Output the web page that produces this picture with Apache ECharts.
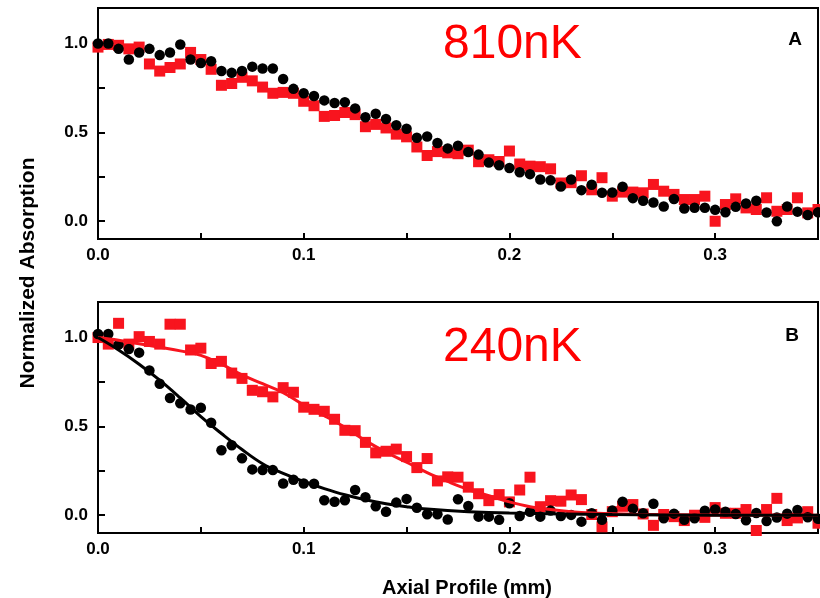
<!DOCTYPE html>
<html>
<head>
<meta charset="utf-8">
<script src="https://cdn.jsdelivr.net/npm/echarts@6/dist/echarts.min.js"></script>
<style>
  html, body { margin: 0; padding: 0; background: #fff; }
  #chart { width: 820px; height: 598px; }
</style>
</head>
<body>
<div id="chart"></div>
<script>
// Axial positions of the sampled profile points (mm)
const profileX = [
  0.000, 0.005, 0.010, 0.015, 0.020, 0.025, 0.030, 0.035, 0.040, 0.045,
  0.050, 0.055, 0.060, 0.065, 0.070, 0.075, 0.080, 0.085, 0.090, 0.095,
  0.100, 0.105, 0.110, 0.115, 0.120, 0.125, 0.130, 0.135, 0.140, 0.145,
  0.150, 0.155, 0.160, 0.165, 0.170, 0.175, 0.180, 0.185, 0.190, 0.195,
  0.200, 0.205, 0.210, 0.215, 0.220, 0.225, 0.230, 0.235, 0.240, 0.245,
  0.250, 0.255, 0.260, 0.265, 0.270, 0.275, 0.280, 0.285, 0.290, 0.295,
  0.300, 0.305, 0.310, 0.315, 0.320, 0.325, 0.330, 0.335, 0.340, 0.345,
  0.350
];

// Panel A (810nK)
const topCircles = [
  1.00, 1.00, 0.97, 0.91, 0.95, 0.97, 0.935, 0.95, 0.995, 0.91,
  0.89, 0.90, 0.845, 0.835, 0.845, 0.87, 0.86, 0.86, 0.80, 0.745,
  0.72, 0.705, 0.68, 0.665, 0.67, 0.635, 0.585, 0.605, 0.575, 0.54,
  0.52, 0.47, 0.477, 0.44, 0.41, 0.425, 0.39, 0.375, 0.33, 0.315,
  0.30, 0.276, 0.265, 0.235, 0.23, 0.195, 0.235, 0.175, 0.205, 0.16,
  0.162, 0.194, 0.13, 0.115, 0.105, 0.083, 0.125, 0.072, 0.076, 0.076,
  0.064, 0.051, 0.081, 0.10, 0.115, 0.049, 0.0, 0.083, 0.054, 0.035,
  0.05
];
const topSquares = [
  0.98, 0.995, 0.99, 0.97, 0.98, 0.885, 0.845, 0.865, 0.885, 0.95,
  0.91, 0.855, 0.765, 0.775, 0.81, 0.79, 0.755, 0.72, 0.725, 0.72,
  0.675, 0.65, 0.59, 0.595, 0.612, 0.60, 0.532, 0.545, 0.525, 0.49,
  0.475, 0.418, 0.37, 0.392, 0.385, 0.38, 0.40, 0.335, 0.346, 0.336,
  0.395, 0.322, 0.31, 0.307, 0.295, 0.215, 0.217, 0.256, 0.177, 0.245,
  0.141, 0.164, 0.164, 0.16, 0.207, 0.169, 0.151, 0.122, 0.122, 0.141,
  0.0, 0.094, 0.126, 0.075, 0.066, 0.132, 0.056, 0.066, 0.132, 0.047,
  0.066
];

// Panel B (240nK)
const bottomCircles = [
  1.02, 1.02, 0.96, 0.935, 0.915, 0.815, 0.74, 0.66, 0.63, 0.595,
  0.605, 0.52, 0.366, 0.394, 0.32, 0.258, 0.254, 0.254, 0.179, 0.20,
  0.179, 0.177, 0.084, 0.076, 0.084, 0.142, 0.101, 0.05, 0.02, 0.071,
  0.092, 0.042, 0.006, 0.006, -0.024, 0.09, 0.052, -0.008, -0.008, -0.026,
  0.067, -0.004, 0.02, -0.008, 0.026, -0.004, 0.002, -0.036, 0.011, -0.026,
  0.026, 0.076, 0.037, 0.011, 0.065, -0.017, 0.009, -0.026, -0.017, 0.025,
  0.032, 0.02, 0.007, -0.028, 0.013, -0.033, -0.013, 0.009, 0.03, -0.011,
  -0.02
];
const bottomSquares = [
  1.0, 0.963, 1.08, 0.963, 1.005, 0.978, 0.963, 1.075, 1.075, 0.93,
  0.94, 0.854, 0.866, 0.80, 0.77, 0.703, 0.695, 0.666, 0.718, 0.692,
  0.608, 0.596, 0.585, 0.54, 0.478, 0.476, 0.41, 0.351, 0.36, 0.372,
  0.33, 0.268, 0.319, 0.193, 0.216, 0.214, 0.158, 0.121, 0.082, 0.116,
  0.075, 0.142, 0.214, 0.048, 0.082, 0.079, 0.114, 0.088, 0.004, -0.065,
  0.02, 0.05, 0.06, 0.007, -0.057, 0.004, -0.008, -0.03, 0.0, -0.012,
  0.043, 0.011, 0.011, 0.032, -0.086, 0.032, 0.095, -0.03, -0.015, 0.02,
  -0.045
];

// Fitted profiles in panel B
const circleFitX = [0, 0.01, 0.02, 0.03, 0.04, 0.05, 0.06, 0.07, 0.08, 0.09, 0.10,
  0.11, 0.12, 0.13, 0.14, 0.15, 0.16, 0.18, 0.20, 0.25, 0.30, 0.35];
const circleFitY = [1.0, 0.93, 0.85, 0.76, 0.66, 0.555, 0.46, 0.37, 0.29, 0.235, 0.19,
  0.15, 0.115, 0.087, 0.065, 0.048, 0.035, 0.02, 0.012, 0.004, 0.0, 0.0];
const squareFitX = [0, 0.01, 0.02, 0.03, 0.04, 0.05, 0.06, 0.07, 0.08, 0.09, 0.10,
  0.11, 0.12, 0.13, 0.14, 0.15, 0.16, 0.17, 0.18, 0.19, 0.20, 0.21, 0.22, 0.23, 0.24,
  0.26, 0.30, 0.35];
const squareFitY = [1.0, 0.985, 0.965, 0.945, 0.925, 0.90, 0.85, 0.79, 0.74, 0.69, 0.62,
  0.56, 0.495, 0.42, 0.355, 0.298, 0.24, 0.19, 0.145, 0.11, 0.075, 0.048, 0.032, 0.02, 0.013,
  0.006, 0.002, 0.0];

// Tick positions
const xLabelValues = [0, 0.1, 0.2, 0.3];
const xTickValues = [0, 0.05, 0.1, 0.15, 0.2, 0.25, 0.3, 0.35];
const yLabelValues = [0, 0.5, 1.0];
const yTickValues = [0, 0.25, 0.5, 0.75, 1.0];

const RED = '#f8141e';
const FONT = '"Liberation Sans", Arial, Helvetica, sans-serif';

const pairs = (xs, ys) => xs.map((x, i) => [x, ys[i]]);

function xAxisFor(gridIndex) {
  return {
    type: 'value', gridIndex, min: 0, max: 0.35,
    axisLine: { show: true, onZero: false, lineStyle: { color: '#000', width: 2 } },
    axisTick: { show: true, inside: true, length: 6, customValues: xTickValues,
      lineStyle: { color: '#000', width: 2 } },
    axisLabel: { customValues: xLabelValues, margin: 8, color: '#000',
      fontFamily: FONT, fontWeight: 'bold', fontSize: 17,
      formatter: v => v.toFixed(1) },
    splitLine: { show: false }
  };
}
function yAxisFor(gridIndex) {
  return {
    type: 'value', gridIndex, min: -0.1, max: 1.2,
    axisLine: { show: true, onZero: false, lineStyle: { color: '#000', width: 2 } },
    axisTick: { show: true, inside: true, length: 7, customValues: yTickValues,
      lineStyle: { color: '#000', width: 2 } },
    axisLabel: { customValues: yLabelValues, margin: 10, color: '#000',
      fontFamily: FONT, fontWeight: 'bold', fontSize: 17,
      formatter: v => v.toFixed(1) },
    splitLine: { show: false }
  };
}
function scatter(idx, ys, symbol, size, color) {
  return {
    type: 'scatter', xAxisIndex: idx, yAxisIndex: idx,
    data: pairs(profileX, ys), symbol, symbolSize: size,
    itemStyle: { color, opacity: 1 }, silent: true
  };
}
function fitLine(idx, xs, ys, color) {
  return {
    type: 'line', xAxisIndex: idx, yAxisIndex: idx,
    data: pairs(xs, ys), smooth: 0.4, showSymbol: false,
    lineStyle: { color, width: 3 }, silent: true
  };
}

const chart = echarts.init(document.getElementById('chart'), null, { renderer: 'canvas' });
chart.setOption({
  backgroundColor: '#fff',
  animation: false,
  grid: [
    { left: 98, top: 8, width: 720, height: 231, show: true, borderColor: '#000', borderWidth: 2,
      outerBoundsMode: 'none' },
    { left: 98, top: 302, width: 720, height: 231, show: true, borderColor: '#000', borderWidth: 2,
      outerBoundsMode: 'none' }
  ],
  xAxis: [xAxisFor(0), xAxisFor(1)],
  yAxis: [yAxisFor(0), yAxisFor(1)],
  series: [
    scatter(0, topSquares, 'rect', 11, RED),
    scatter(0, topCircles, 'circle', 10.5, '#000'),
    scatter(1, bottomSquares, 'rect', 11, RED),
    fitLine(1, squareFitX, squareFitY, RED),
    scatter(1, bottomCircles, 'circle', 10.5, '#000'),
    fitLine(1, circleFitX, circleFitY, '#000')
  ],
  graphic: [
    { type: 'text', x: 443, y: 45, style: { text: '810nK', fill: '#ff0000',
      font: '48px ' + FONT, align: 'left', verticalAlign: 'middle' } },
    { type: 'text', x: 443, y: 348, style: { text: '240nK', fill: '#ff0000',
      font: '48px ' + FONT, align: 'left', verticalAlign: 'middle' } },
    { type: 'text', x: 795, y: 40, style: { text: 'A', fill: '#000',
      font: 'bold 19px ' + FONT, align: 'center', verticalAlign: 'middle' } },
    { type: 'text', x: 792, y: 336, style: { text: 'B', fill: '#000',
      font: 'bold 19px ' + FONT, align: 'center', verticalAlign: 'middle' } },
    { type: 'text', x: 28, y: 273, rotation: Math.PI / 2, style: { text: 'Normalized Absorption',
      fill: '#000', font: 'bold 21px ' + FONT, align: 'center', verticalAlign: 'middle' } },
    { type: 'text', x: 467, y: 588, style: { text: 'Axial Profile (mm)',
      fill: '#000', font: 'bold 20px ' + FONT, align: 'center', verticalAlign: 'middle' } }
  ]
});
</script>
</body>
</html>
